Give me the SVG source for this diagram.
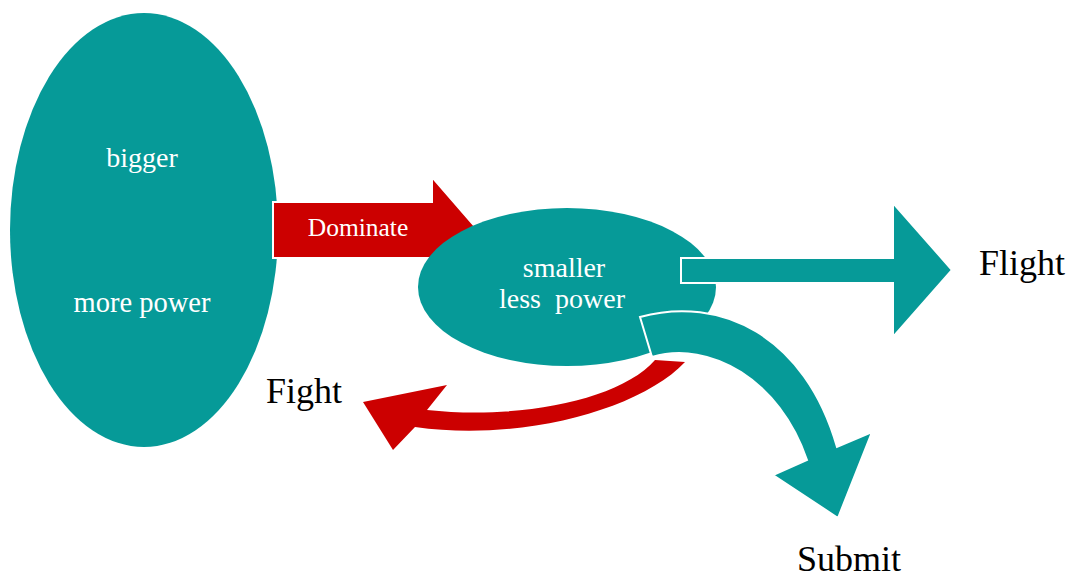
<svg xmlns="http://www.w3.org/2000/svg" width="1070" height="580" viewBox="0 0 1070 580">
<style>
.teal{fill:#069a98}
.red{fill:#cc0000}
.arrow{stroke:#ffffff;stroke-width:2;stroke-linejoin:miter}
.wt{fill:#ffffff;text-anchor:middle}
.bt{fill:#000000;font-size:36px}
</style>
<rect width="1070" height="580" fill="#ffffff"/>
<g font-family="'Liberation Serif', 'Times New Roman', serif">
<g id="node-bigger">
<ellipse class="teal" cx="144" cy="230" rx="134" ry="217"/>
<text class="wt" x="142" y="167" font-size="28">bigger</text>
<text class="wt" x="142" y="312" font-size="28.5">more power</text>
</g>
<g id="connectors">
<g id="edge-dominate">
<path class="red arrow" d="M273,202 L432,202 L432,177 L478,230 L432,283 L432,258 L273,258 Z"/>
<text class="wt" x="358" y="236" font-size="25.5">Dominate</text>
</g>
</g>
<g id="node-smaller">
<ellipse class="teal" cx="567" cy="287" rx="149" ry="79"/>
<text class="wt" x="564" y="277" font-size="28">smaller</text>
<text class="wt" x="562" y="308" font-size="28" xml:space="preserve">less  power</text>
</g>
<g id="connectors-out">
<path id="edge-flight" class="teal arrow" d="M681,258 L893,258 L893,203 L952,270 L893,337 L893,283 L681,283 Z"/>
<path id="edge-fight" class="red" d="M655,360 C620,400 520,420 427,410 L447,385 L363,402 L393,450 L415,427 C520,442 640,410 685,362 Z"/>
<path id="edge-submit" class="teal arrow" d="M640,317 C720,295 805,335 837,447 L872,432 L838,518 L773,475 L807,460 C780,380 710,340 652,357 Z"/>
</g>
<g id="node-flight"><text class="bt" x="979" y="275">Flight</text></g>
<g id="node-fight"><text class="bt" x="266" y="403">Fight</text></g>
<g id="node-submit"><text class="bt" x="797" y="571" font-size="38">Submit</text></g>
</g>
</svg>
